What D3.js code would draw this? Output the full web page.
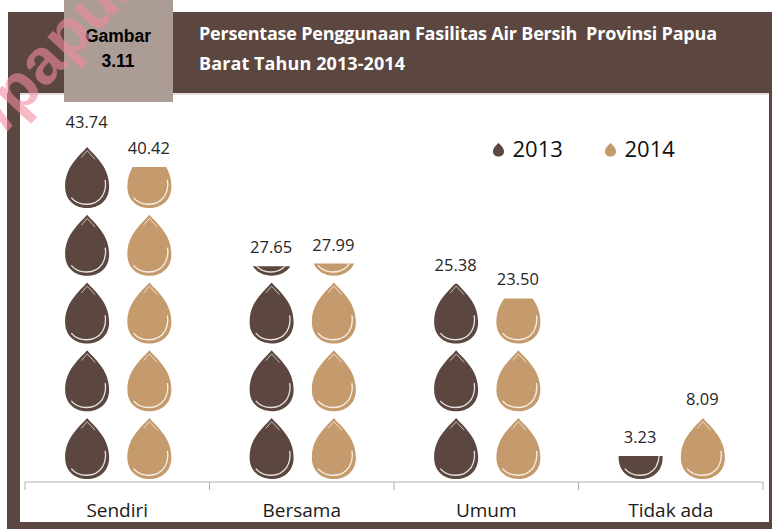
<!DOCTYPE html>
<html>
<head>
<meta charset="utf-8">
<script src="https://cdn.jsdelivr.net/npm/d3@7"></script>
<style>
html, body { margin: 0; padding: 0; background: #fff; }
svg { display: block; }
</style>
</head>
<body>
<div id="chart"></div>
<script>
var categories = ["Sendiri", "Bersama", "Umum", "Tidak ada"];
var years = ["2013", "2014"];
var values2013 = [43.74, 27.65, 25.38, 3.23];
var values2014 = [40.42, 27.99, 23.50, 8.09];
var titleLines = ["Persentase Penggunaan Fasilitas Air Bersih  Provinsi Papua", "Barat Tahun 2013-2014"];
var figureLabel = ["Gambar", "3.11"];

var w = 772, h = 529;
var dark = "#5b473f", tan = "#c59b6d";
var colors = [dark, tan];
var font = "'Open Sans', sans-serif";

var svg = d3.select("#chart").append("svg")
    .attr("width", w)
    .attr("height", h);

// frame and header
svg.append("rect").attr("x", 8).attr("y", 12).attr("width", 764).attr("height", 517).attr("fill", dark);
svg.append("rect").attr("x", 7).attr("y", 93).attr("width", 14).attr("height", 436).attr("fill", dark);
svg.append("rect").attr("x", 20).attr("y", 93).attr("width", 749).attr("height", 429).attr("fill", "#fff");
svg.append("rect").attr("x", 20).attr("y", 93).attr("width", 749).attr("height", 2).attr("fill", "#e6dfdc");

// scales
var x = d3.scaleBand().domain(categories).range([25, 763]);
var xInner = d3.scaleBand().domain(years).range([0, x.bandwidth()]);
var y = d3.scaleLinear().domain([0, 50]).range([481, 92.5]);

var dropW = 44, dropH = 61, pitch = y(0) - y(8.72);

// one drop drawn from its own tip, tip at 0,0
function dropPath(dw, dh) {
    var p = d3.path();
    var r = dw / 2;
    p.moveTo(0, 0);
    p.bezierCurveTo(r * 0.42, dh * 0.17, r, dh * 0.33, r, dh * 0.65);
    p.bezierCurveTo(r, dh * 0.87, r * 0.55, dh, 0, dh);
    p.bezierCurveTo(-r * 0.55, dh, -r, dh * 0.87, -r, dh * 0.65);
    p.bezierCurveTo(-r, dh * 0.33, -r * 0.42, dh * 0.17, 0, 0);
    p.closePath();
    return p.toString();
}

// white shine lines inside each drop
function shineBottom(dw, dh) {
    var p = d3.path();
    var r = dw / 2;
    p.moveTo(-r * 0.72, dh * 0.83);
    p.bezierCurveTo(-r * 0.4, dh * 0.97, r * 0.35, dh * 0.99, r * 0.7, dh * 0.8);
    p.bezierCurveTo(r * 0.85, dh * 0.7, r * 0.86, dh * 0.62, r * 0.82, dh * 0.54);
    return p.toString();
}
function shineTop(dw, dh) {
    var p = d3.path();
    var r = dw / 2;
    p.moveTo(-r * 0.26, dh * 0.17);
    p.lineTo(0, dh * 0.06);
    p.lineTo(r * 0.36, dh * 0.2);
    return p.toString();
}

function drawDrop(g, color, dw, dh) {
    g.append("path").attr("d", dropPath(dw, dh)).attr("fill", color);
    g.append("path").attr("d", shineBottom(dw, dh)).attr("fill", "none").attr("stroke", "#fff").attr("stroke-width", 1.3).attr("stroke-opacity", 0.85);
    g.append("path").attr("d", shineTop(dw, dh)).attr("fill", "none").attr("stroke", "#fff").attr("stroke-width", 1).attr("stroke-opacity", 0.65);
}

var bars = [];
categories.forEach(function(c, i) {
    bars.push({cat: c, year: years[0], value: values2013[i], color: colors[0]});
    bars.push({cat: c, year: years[1], value: values2014[i], color: colors[1]});
});

var defs = svg.append("defs");
bars.forEach(function(d, i) {
    d.cx = x(d.cat) + xInner(d.year) + xInner.bandwidth() / 2 + (d.year === years[0] ? 16 : -14);
    defs.append("clipPath").attr("id", "clip" + i)
        .append("rect")
        .attr("x", d.cx - dropW)
        .attr("y", y(d.value))
        .attr("width", dropW * 2)
        .attr("height", y(0) - y(d.value));

    var g = svg.append("g").attr("clip-path", "url(#clip" + i + ")");
    var n = Math.ceil((y(0) - y(d.value)) / pitch);
    d3.range(n).forEach(function(k) {
        var one = g.append("g").attr("transform", "translate(" + d.cx + "," + (y(0) - 2 - dropH - k * pitch) + ")");
        drawDrop(one, d.color, dropW, dropH);
    });
});

// value labels
svg.selectAll("text.val")
    .data(bars)
    .enter()
    .append("text")
    .attr("class", "val")
    .attr("x", function(d) { return d.cx - 0.5; })
    .attr("y", function(d) { return y(d.value) - 13; })
    .attr("text-anchor", "middle")
    .attr("font-family", font)
    .attr("font-size", 16.5)
    .attr("fill", "#262626")
    .text(function(d) { return d.value.toFixed(2); });

// x axis with ticks at the band edges
var axisColor = "#b0b0b0";
svg.append("line").attr("x1", x.range()[0]).attr("x2", x.range()[1]).attr("y1", 482).attr("y2", 482).attr("stroke", axisColor);
var edges = categories.map(function(c) { return x(c); }).concat([x.range()[1]]);
svg.selectAll("line.tick").data(edges).enter().append("line")
    .attr("class", "tick")
    .attr("x1", function(d) { return d; })
    .attr("x2", function(d) { return d; })
    .attr("y1", 482).attr("y2", 490)
    .attr("stroke", axisColor);
svg.selectAll("text.cat").data(categories).enter().append("text")
    .attr("class", "cat")
    .attr("x", function(d) { return x(d) + x.bandwidth() / 2; })
    .attr("y", 517)
    .attr("text-anchor", "middle")
    .attr("font-family", font)
    .attr("font-size", 19)
    .attr("fill", "#1a1a1a")
    .text(function(d) { return d; });

// legend
var legendX = [498.5, 610.5];
years.forEach(function(yr, i) {
    var g = svg.append("g").attr("transform", "translate(" + legendX[i] + ",143)");
    g.append("path").attr("d", dropPath(11, 13.5)).attr("fill", colors[i]);
    svg.append("text").attr("x", legendX[i] + 14).attr("y", 157)
        .attr("font-family", font).attr("font-size", 22).attr("fill", "#111").text(yr);
});

// title
var titleWidths = [518, 206];
titleLines.forEach(function(t, i) {
    svg.append("text").attr("x", 199).attr("y", 40 + i * 30)
        .attr("font-family", font).attr("font-weight", 700).attr("font-size", 18)
        .attr("textLength", titleWidths[i]).attr("lengthAdjust", "spacing")
        .attr("fill", "#fff").style("white-space", "pre").text(t);
});

// figure tag
svg.append("rect").attr("x", 64).attr("y", 0).attr("width", 109).attr("height", 102).attr("fill", "#ab9c95");
figureLabel.forEach(function(t, i) {
    svg.append("text").attr("x", 118).attr("y", 42 + i * 25)
        .attr("text-anchor", "middle")
        .attr("font-family", "'Liberation Sans', sans-serif").attr("font-weight", 700).attr("font-size", 17.5)
        .attr("fill", "#000").text(t);
});

// pink watermark running over the corner
svg.append("text")
    .attr("transform", "translate(6,131) rotate(-47)")
    .attr("font-family", "'Liberation Sans', sans-serif")
    .attr("font-weight", 700)
    .attr("font-size", 64)
    .attr("fill", "#f28a9e")
    .attr("fill-opacity", 0.6)
    .text("/papua");
</script>
</body>
</html>
